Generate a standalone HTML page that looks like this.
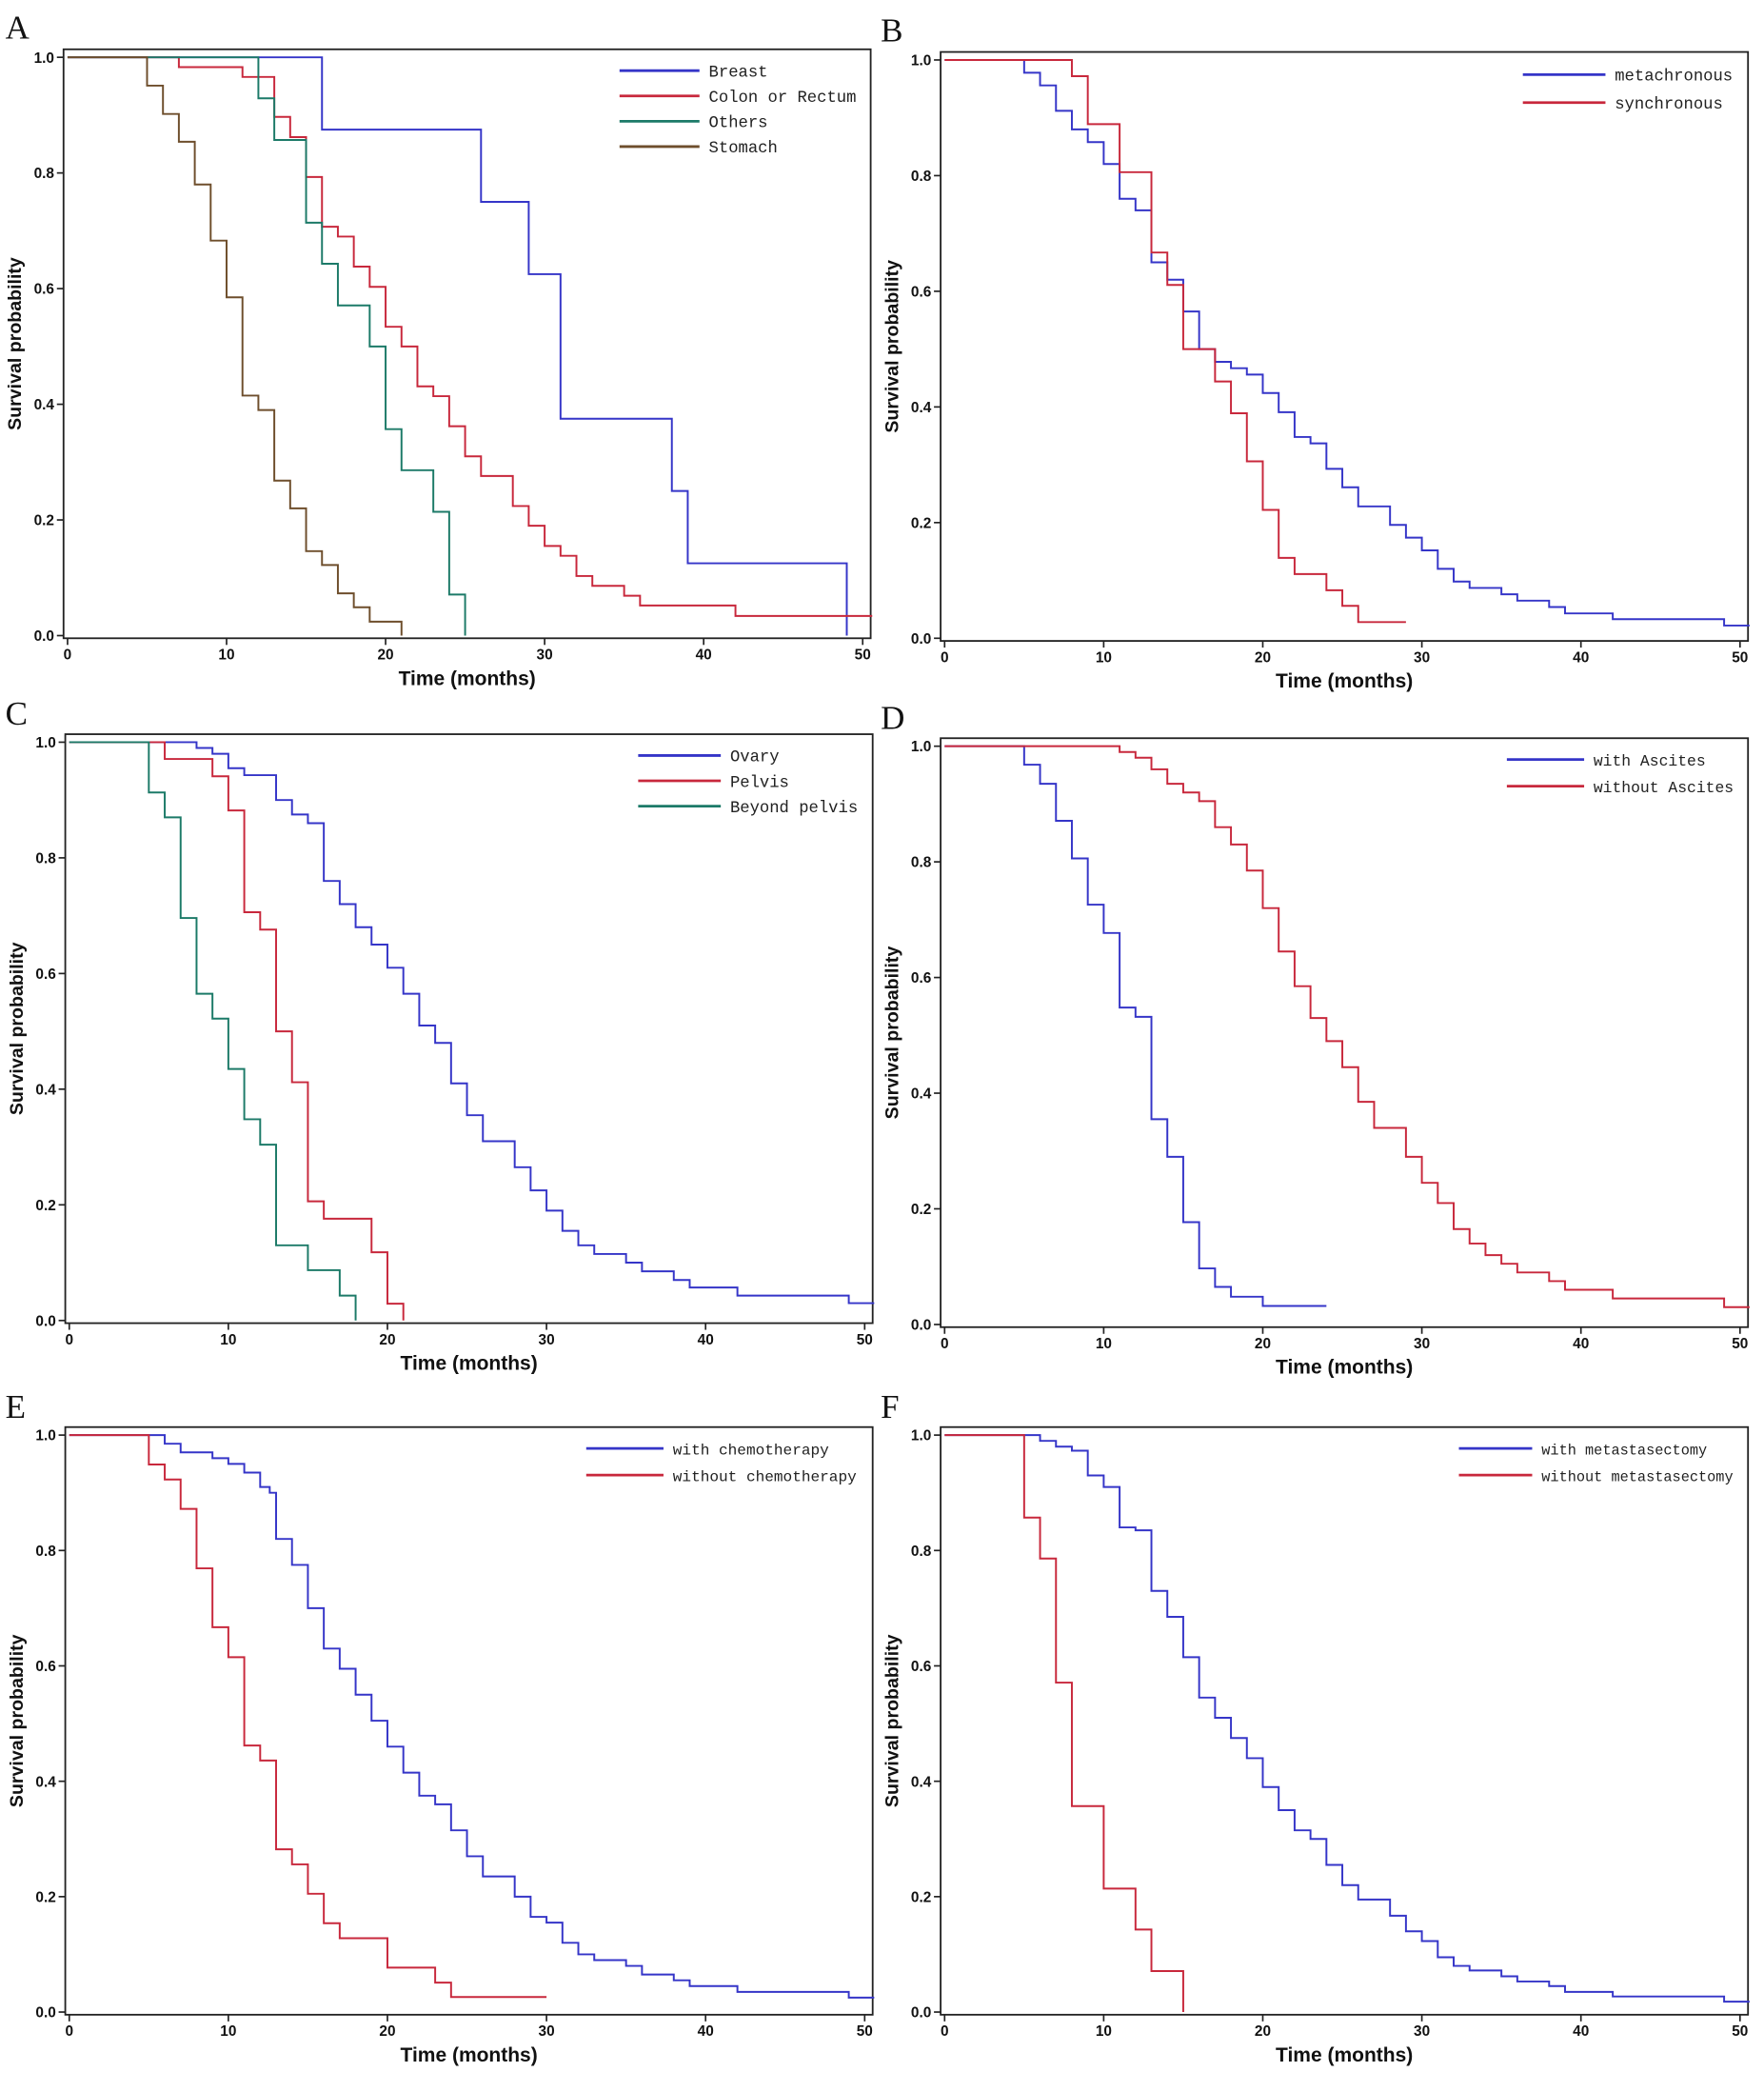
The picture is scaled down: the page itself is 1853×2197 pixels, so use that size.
<!DOCTYPE html>
<html><head><meta charset="utf-8"><style>
html,body{margin:0;padding:0;background:#fff;}
svg{display:block;}
.t{font-family:"Liberation Sans",sans-serif;font-weight:bold;fill:#111;}
.lg{font-family:"Liberation Mono",monospace;fill:#222;}
.pl{font-family:"Liberation Serif",serif;font-size:25px;fill:#111;}
</style></head><body>
<svg id="s" width="1853" height="2197" viewBox="0 0 1324 1570" preserveAspectRatio="none" xmlns="http://www.w3.org/2000/svg">
<text class="pl" x="4" y="29">A</text>
<text class="pl" x="661" y="31">B</text>
<text class="pl" x="4" y="544">C</text>
<text class="pl" x="661" y="547">D</text>
<text class="pl" x="4" y="1064">E</text>
<text class="pl" x="661" y="1064">F</text>
<g id="g"></g>
</svg>
<script>
var B='#3535c8',R='#c8283c',G='#1c7a68',N='#6e4e2c';
var TX=["0","10","20","30","40","50"],TY=["0.0","0.2","0.4","0.6","0.8","1.0"];
var P=[
{x0:50.7,x50:647.5,y1:43,y0:477,
 leg:{x:465,y:53,sp:19,len:60,fs:12.3,items:[[B,"Breast"],[R,"Colon or Rectum"],[G,"Others"],[N,"Stomach"]]},
 c:[
 [B,[[16,.875],[26,.75],[29,.625],[31,.375],[38,.25],[39,.125],[49,0]]],
 [R,[[7,.983],[11,.966],[13,.897],[14,.862],[15,.793],[16,.707],[17,.69],[18,.638],[19,.603],[20,.534],[21,.5],[22,.431],[23,.414],[24,.362],[25,.31],[26,.276],[28,.224],[29,.19],[30,.155],[31,.138],[32,.103],[33,.086],[35,.069],[36,.052],[42,.034]],50.6],
 [G,[[12,.929],[13,.857],[15,.714],[16,.643],[17,.571],[19,.5],[20,.357],[21,.286],[23,.214],[24,.071],[25,0]]],
 [N,[[5,.951],[6,.902],[7,.854],[8,.78],[9,.683],[10,.585],[11,.415],[12,.39],[13,.268],[14,.22],[15,.146],[16,.122],[17,.073],[18,.049],[19,.024],[21,0]]]
 ]},
{x0:709,x50:1306,y1:45,y0:479,
 leg:{x:1143,y:56,sp:21,len:62,fs:12.3,items:[[B,"metachronous"],[R,"synchronous"]]},
 c:[
 [B,[[5,.978],[6,.956],[7,.912],[8,.88],[9,.858],[10,.82],[11,.76],[12,.74],[13,.65],[14,.62],[15,.565],[16,.5],[17,.478],[18,.467],[19,.456],[20,.424],[21,.391],[22,.348],[23,.337],[24,.293],[25,.261],[26,.228],[28,.196],[29,.174],[30,.152],[31,.12],[32,.098],[33,.087],[35,.076],[36,.065],[38,.054],[39,.043],[42,.033],[49,.022]],50.6],
 [R,[[8,.972],[9,.889],[11,.806],[13,.667],[14,.611],[15,.5],[17,.444],[18,.389],[19,.306],[20,.222],[21,.139],[22,.111],[24,.083],[25,.056],[26,.028]],29]
 ]},
{x0:52,x50:649,y1:557,y0:991,
 leg:{x:479,y:567,sp:19,len:62,fs:12.3,items:[[B,"Ovary"],[R,"Pelvis"],[G,"Beyond pelvis"]]},
 c:[
 [B,[[8,.99],[9,.98],[10,.955],[11,.943],[13,.9],[14,.875],[15,.86],[16,.76],[17,.72],[18,.68],[19,.65],[20,.61],[21,.565],[22,.51],[23,.48],[24,.41],[25,.355],[26,.31],[28,.265],[29,.225],[30,.19],[31,.155],[32,.13],[33,.115],[35,.1],[36,.085],[38,.07],[39,.057],[42,.043],[49,.03]],50.6],
 [R,[[6,.971],[9,.941],[10,.882],[11,.706],[12,.676],[13,.5],[14,.412],[15,.206],[16,.176],[19,.118],[20,.029],[21,0]]],
 [G,[[5,.913],[6,.87],[7,.696],[8,.565],[9,.522],[10,.435],[11,.348],[12,.304],[13,.13],[15,.087],[17,.043],[18,0]]]
 ]},
{x0:709,x50:1306,y1:560,y0:994,
 leg:{x:1131,y:570,sp:20,len:58,fs:11.7,items:[[B,"with Ascites"],[R,"without Ascites"]]},
 c:[
 [B,[[5,.968],[6,.935],[7,.871],[8,.806],[9,.726],[10,.677],[11,.548],[12,.532],[13,.355],[14,.29],[15,.177],[16,.097],[17,.065],[18,.048],[20,.032]],24],
 [R,[[11,.99],[12,.98],[13,.96],[14,.935],[15,.92],[16,.905],[17,.86],[18,.83],[19,.785],[20,.72],[21,.645],[22,.585],[23,.53],[24,.49],[25,.445],[26,.385],[27,.34],[29,.29],[30,.245],[31,.21],[32,.165],[33,.14],[34,.12],[35,.105],[36,.09],[38,.075],[39,.06],[42,.045],[49,.03]],50.6]
 ]},
{x0:52,x50:649,y1:1077,y0:1510,
 leg:{x:440,y:1087,sp:20,len:58,fs:11.5,items:[[B,"with chemotherapy"],[R,"without chemotherapy"]]},
 c:[
 [B,[[6,.985],[7,.97],[9,.96],[10,.95],[11,.935],[12,.91],[12.6,.9],[13,.82],[14,.775],[15,.7],[16,.63],[17,.595],[18,.55],[19,.505],[20,.46],[21,.415],[22,.375],[23,.36],[24,.315],[25,.27],[26,.235],[28,.2],[29,.165],[30,.155],[31,.12],[32,.1],[33,.09],[35,.08],[36,.065],[38,.055],[39,.045],[42,.035],[49,.025]],50.6],
 [R,[[5,.949],[6,.923],[7,.872],[8,.769],[9,.667],[10,.615],[11,.462],[12,.436],[13,.282],[14,.256],[15,.205],[16,.154],[17,.128],[20,.077],[23,.051],[24,.026]],30]
 ]},
{x0:709,x50:1306,y1:1077,y0:1510,
 leg:{x:1095,y:1087,sp:20,len:55,fs:10.9,items:[[B,"with metastasectomy"],[R,"without metastasectomy"]]},
 c:[
 [B,[[6,.99],[7,.98],[8,.973],[9,.93],[10,.91],[11,.84],[12,.835],[13,.73],[14,.685],[15,.615],[16,.545],[17,.51],[18,.475],[19,.44],[20,.39],[21,.35],[22,.315],[23,.3],[24,.255],[25,.22],[26,.195],[28,.167],[29,.14],[30,.123],[31,.095],[32,.08],[33,.072],[35,.062],[36,.053],[38,.045],[39,.035],[42,.027],[49,.018]],50.6],
 [R,[[5,.857],[6,.786],[7,.571],[8,.357],[10,.214],[12,.143],[13,.071],[15,0]]]
 ]}
];
var h='';
P.forEach(function(p){
 var X=function(t){return p.x0+(p.x50-p.x0)*t/50},Y=function(v){return p.y0-(p.y0-p.y1)*v};
 var L=p.x0-3,Rt=p.x50+6,T=p.y1-6,Bt=p.y0+2;
 h+='<rect x="'+L+'" y="'+T+'" width="'+(Rt-L)+'" height="'+(Bt-T)+'" fill="none" stroke="#222" stroke-width="1.3"/>';
 for(var i=0;i<6;i++){
  var x=X(i*10);h+='<line x1="'+x+'" y1="'+Bt+'" x2="'+x+'" y2="'+(Bt+5)+'" stroke="#222" stroke-width="1.2"/>';
  h+='<text class="t" font-size="11" text-anchor="middle" x="'+x+'" y="'+(Bt+16)+'">'+TX[i]+'</text>';
  var y=Y(i*.2);h+='<line x1="'+(L-5)+'" y1="'+y+'" x2="'+L+'" y2="'+y+'" stroke="#222" stroke-width="1.2"/>';
  h+='<text class="t" font-size="11" text-anchor="end" x="'+(L-7)+'" y="'+(y+4)+'">'+TY[i]+'</text>';
 }
 h+='<text class="t" font-size="15" text-anchor="middle" x="'+((L+Rt)/2)+'" y="'+(Bt+35)+'">Time  (months)</text>';
 var cy=(T+Bt)/2,cx=L-32;
 h+='<text class="t" font-size="14" text-anchor="middle" transform="translate('+cx+','+cy+') rotate(-90)">Survival probability</text>';
 p.c.forEach(function(c){
  var d='M'+X(0)+' '+Y(1);
  c[1].forEach(function(s){d+=' H'+X(s[0]).toFixed(2)+' V'+Y(s[1]).toFixed(2);});
  if(c[2])d+=' H'+X(c[2]).toFixed(2);
  h+='<path d="'+d+'" fill="none" stroke="'+c[0]+'" stroke-width="1.4"/>';
 });
 var lg=p.leg;
 lg.items.forEach(function(it,k){
  var y=lg.y+k*lg.sp;
  h+='<line x1="'+lg.x+'" y1="'+y+'" x2="'+(lg.x+lg.len)+'" y2="'+y+'" stroke="'+it[0]+'" stroke-width="2"/>';
  h+='<text class="lg" font-size="'+lg.fs+'" x="'+(lg.x+lg.len+7)+'" y="'+(y+4.5)+'">'+it[1]+'</text>';
 });
});
document.getElementById('g').innerHTML=h;
</script>
</body></html>
